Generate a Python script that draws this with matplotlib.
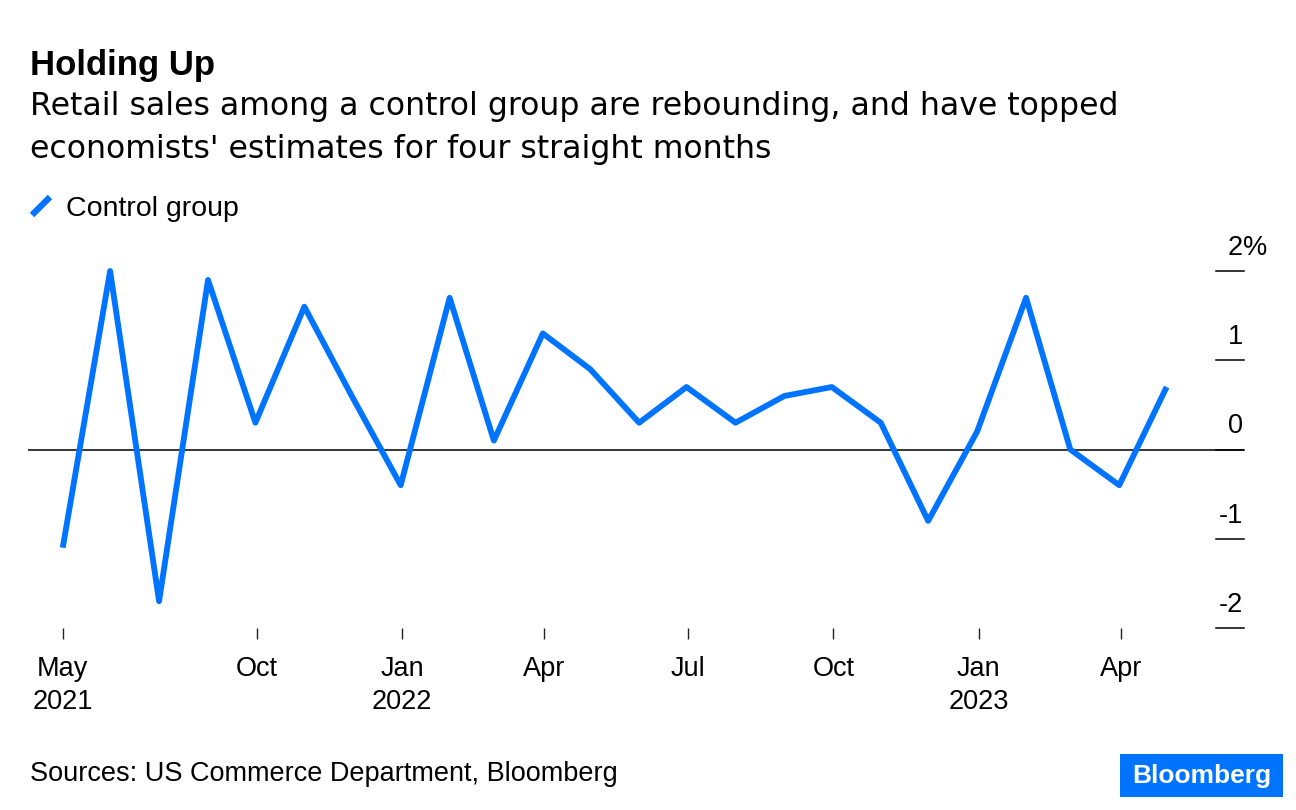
import matplotlib
matplotlib.use("Agg")
import matplotlib.pyplot as plt
from matplotlib.patches import Rectangle
from matplotlib.lines import Line2D
import pandas as pd

# month-over-month change in control-group retail sales, %
months = pd.date_range("2021-05-31", "2023-04-30", freq="ME")
control = [-1.1, 2.0, -1.7, 1.9, 0.3, 1.6, 0.6, -0.4, 1.7, 0.1, 1.3, 0.9,
           0.3, 0.7, 0.3, 0.6, 0.7, 0.3, -0.8, 0.2, 1.7, 0.0, -0.4, 0.7]

tick_dates = [months[0], "2021-10-01", "2022-01-01", "2022-04-01",
              "2022-07-01", "2022-10-01", "2023-01-01", "2023-04-01"]
tick_labels = ["May\n2021", "Oct", "Jan\n2022", "Apr", "Jul", "Oct",
               "Jan\n2023", "Apr"]
y_ticks = [2, 1, 0, -1, -2]

BLUE = "#0073ff"
plt.rcParams["font.family"] = ["Liberation Sans", "DejaVu Sans"]

W, H = 1296, 810
fig = plt.figure(figsize=(W / 100, H / 100), dpi=100)


def fx(px):
    return px / W


def fy(py):
    return 1 - py / H


ax = fig.add_axes([fx(28), fy(628), fx(1244 - 28), (628 - 271) / H])
ax.plot(months, control, color=BLUE, lw=4.2, solid_joinstyle="round",
        solid_capstyle="butt", clip_on=False, zorder=3)
ax.axhline(0, color="black", lw=1.1, zorder=2)

ax.set_ylim(-2, 2)
ax.set_xlim(pd.Timestamp("2021-05-09"), pd.Timestamp("2023-06-18"))
for s in ax.spines.values():
    s.set_visible(False)

ax.set_xticks([pd.Timestamp(d) for d in tick_dates])
ax.set_xticklabels(tick_labels, fontsize=19.5, linespacing=1.35)
ax.tick_params(axis="x", length=8, width=1, color="#222222", pad=12)

# y ticks: short dashes on the right with labels sitting above them
ax.set_yticks([])
tr = ax.get_yaxis_transform()
for v in y_ticks:
    ax.add_line(Line2D([1 - 28 / 1216, 1], [v, v], transform=tr,
                       color="black", lw=1.1, clip_on=False))
    ax.text(0.9992, v + 0.26, str(v), transform=tr, ha="right",
            va="center", fontsize=19.5)
ax.text(0.9992, 2 + 0.26, "%", transform=tr, ha="left", va="center",
        fontsize=19.5)

fig.text(fx(30), fy(75), "Holding Up", fontsize=25, fontweight="bold",
         va="baseline")
fig.text(fx(30), fy(115),
         "Retail sales among a control group are rebounding, and have topped",
         fontsize=22.7, va="baseline", family="DejaVu Sans")
fig.text(fx(30), fy(158), "economists' estimates for four straight months",
         fontsize=22.7, va="baseline", family="DejaVu Sans")

fig.add_artist(Line2D([fx(32), fx(50)], [fy(215), fy(197)], color=BLUE,
                      lw=4.5, solid_capstyle="butt"))
fig.text(fx(66), fy(216), "Control group", fontsize=20.5, va="baseline")

fig.text(fx(30), fy(781), "Sources: US Commerce Department, Bloomberg",
         fontsize=19.5, va="baseline")

fig.add_artist(Rectangle((fx(1120), fy(797)), fx(163), 43 / H,
                         facecolor=BLUE, edgecolor="none"))
fig.text(fx(1202), fy(776), "Bloomberg", color="white", fontsize=19,
         fontweight="bold", ha="center", va="center")

fig.savefig("out.png", dpi=100, facecolor="white")
